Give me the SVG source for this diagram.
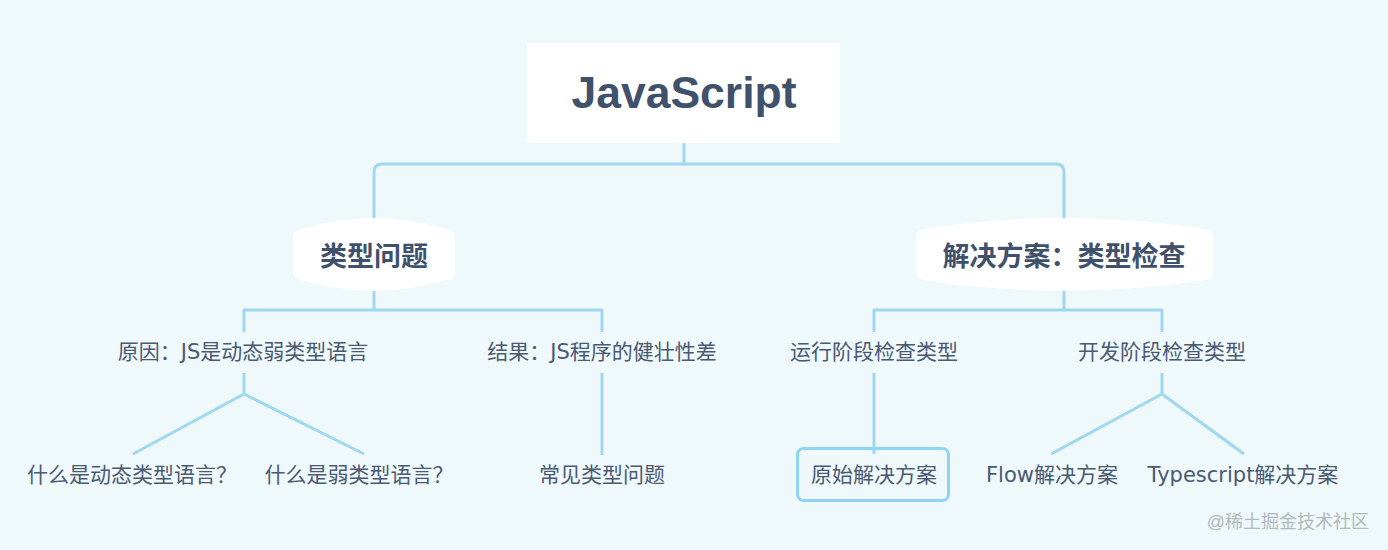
<svg xmlns="http://www.w3.org/2000/svg" width="1388" height="550" viewBox="0 0 1388 550">
<style>
  .bg{fill:#eff8fb}
  .ln{fill:none;stroke:#9fd8ee;stroke-width:3;stroke-linecap:butt;stroke-linejoin:round}
  .t{font-family:"DejaVu Sans","Noto Sans CJK SC",sans-serif;fill:#4a5a72;font-size:21px;text-anchor:middle}
  .sub{fill:#ffffff}
  .st{font-family:"Liberation Sans","Noto Sans CJK SC",sans-serif;fill:#40516b;font-size:27px;font-weight:bold;text-anchor:middle}
  .root{font-family:"Liberation Sans","Noto Sans CJK SC",sans-serif;fill:#40516b;font-size:44px;font-weight:bold;text-anchor:middle}
  .wm{font-family:"Liberation Sans","Noto Sans CJK SC",sans-serif;fill:#b3b8be;font-size:18px;text-anchor:end}
</style>
<rect class="bg" x="0" y="0" width="1388" height="550"/>
<g id="connectors">
  <path class="ln" d="M684,143 V164 M374,218 V172 Q374,164 382,164 H1056 Q1064,164 1064,172 V218"/>
  <path class="ln" d="M374,291 V310 M244,332 V310 H602 V332"/>
  <path class="ln" d="M1064,291 V310 M874,332 V310 H1162 V332"/>
  <path class="ln" d="M244,373 V394 L133,454 M244,394 L364,454"/>
  <path class="ln" d="M602,373 V455"/>
  <path class="ln" d="M874,373 V454"/>
  <path class="ln" d="M1162,373 V394 L1051,454 M1162,394 L1244,454"/>
</g>
<g id="root">
  <rect x="527" y="43" width="313" height="100" fill="#ffffff"/>
  <text class="root" x="684" y="108" textLength="225" lengthAdjust="spacingAndGlyphs">JavaScript</text>
</g>
<g id="sub1">
  <path class="sub" d="M301,229 Q374,207 447,229 Q455,230.5 455,237 L455,272 Q455,278.5 447,280 Q374,302 301,280 Q293,278.5 293,272 L293,237 Q293,230.5 301,229 Z"/>
  <text class="st" x="374" y="266">类型问题</text>
</g>
<g id="sub2">
  <path class="sub" d="M924,229 Q1064,207 1205,229 Q1213,230.5 1213,237 L1213,272 Q1213,278.5 1205,280 Q1064,302 924,280 Q916,278.5 916,272 L916,237 Q916,230.5 924,229 Z"/>
  <text class="st" x="1064" y="266" textLength="243" lengthAdjust="spacing">解决方案：类型检查</text>
</g>
<g id="n-reason"><text class="t" x="243" y="359">原因：JS是动态弱类型语言</text></g>
<g id="n-result"><text class="t" x="602" y="359">结果：JS程序的健壮性差</text></g>
<g id="n-dynamic"><text class="t" x="132" y="482">什么是动态类型语言？</text></g>
<g id="n-weak"><text class="t" x="359" y="482">什么是弱类型语言？</text></g>
<g id="n-common"><text class="t" x="602" y="482">常见类型问题</text></g>
<g id="n-runtime"><text class="t" x="874" y="359">运行阶段检查类型</text></g>
<g id="n-dev"><text class="t" x="1162" y="359">开发阶段检查类型</text></g>
<g id="n-original">
  <rect x="797.5" y="448.5" width="151" height="52" rx="6" fill="none" stroke="#8fd4f5" stroke-width="3"/>
  <text class="t" x="874" y="482">原始解决方案</text>
</g>
<g id="n-flow"><text class="t" x="1052" y="482">Flow解决方案</text></g>
<g id="n-ts"><text class="t" x="1243" y="482">Typescript解决方案</text></g>
<text class="wm" x="1369" y="528">@稀土掘金技术社区</text>
</svg>
